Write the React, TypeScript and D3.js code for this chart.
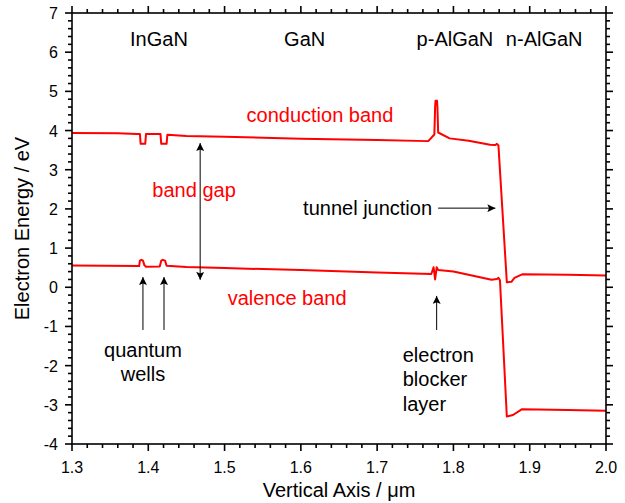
import React from "react";
import * as d3 from "d3";

// band edges (position in µm, energy in eV)
const conductionX = [
  1.3, 1.36, 1.385, 1.389, 1.39, 1.396, 1.397, 1.416, 1.417, 1.424, 1.425,
  1.45, 1.5, 1.6, 1.7, 1.767, 1.775, 1.776, 1.7765, 1.7785, 1.779, 1.78,
  1.795, 1.82, 1.848, 1.855, 1.857, 1.859, 1.87, 1.876, 1.88, 1.89, 1.95, 2.0,
];
const conductionE = [
  3.94, 3.93, 3.91, 3.91, 3.66, 3.66, 3.91, 3.91, 3.66, 3.66, 3.89,
  3.86, 3.84, 3.79, 3.76, 3.73, 3.9, 4.6, 4.76, 4.76, 4.6, 3.95,
  3.8, 3.74, 3.64, 3.63, 3.66, 3.62, 0.13, 0.14, 0.24, 0.33, 0.32, 0.3,
];

const valenceX = [
  1.3, 1.388, 1.389, 1.391, 1.393, 1.395, 1.397, 1.415, 1.417, 1.419, 1.422,
  1.424, 1.45, 1.5, 1.6, 1.7, 1.771, 1.774, 1.776, 1.778, 1.78, 1.8, 1.85,
  1.857, 1.859, 1.861, 1.87, 1.878, 1.89, 1.95, 2.0,
];
const valenceE = [
  0.556, 0.54, 0.68, 0.7, 0.68, 0.56, 0.525, 0.53, 0.68, 0.7, 0.68,
  0.55, 0.52, 0.49, 0.44, 0.38, 0.34, 0.51, 0.2, 0.51, 0.44, 0.4, 0.19,
  0.21, 0.24, 0.18, -3.3, -3.26, -3.11, -3.13, -3.15,
];

const xTickLabels = ["1.3", "1.4", "1.5", "1.6", "1.7", "1.8", "1.9", "2.0"];
const yTickLabels = ["-4", "-3", "-2", "-1", "0", "1", "2", "3", "4", "5", "6", "7"];
const layerNames = ["InGaN", "GaN", "p-AlGaN", "n-AlGaN"];
const layerCenters = [1.414, 1.605, 1.802, 1.919];

const font = "'Liberation Sans', Arial, sans-serif";
const red = "#ff0000";

const App = () => {
  const width = 625;
  const height = 503;
  const margins = { top: 13, right: 19, bottom: 59, left: 72 };

  const xScale = d3
    .scaleLinear()
    .domain([1.3, 2.0])
    .range([margins.left, width - margins.right]);
  const yScale = d3
    .scaleLinear()
    .domain([-4, 7])
    .range([height - margins.bottom, margins.top]);

  const x0 = xScale.range()[0];
  const x1 = xScale.range()[1];
  const y0 = yScale.range()[0];
  const y1 = yScale.range()[1];

  const line = d3
    .line<number>()
    .x((d) => xScale(d))
    .curve(d3.curveLinear);

  const cbPath = line.y((_, i) => yScale(conductionE[i]))(conductionX);
  const vbPath = line.y((_, i) => yScale(valenceE[i]))(valenceX);

  const xMinor = d3.range(0, 36).map((i) => 1.3 + i * 0.02);
  const yMinor = d3.range(0, 56).map((i) => -4 + i * 0.2);

  const majorLen = 7;
  const minorLen = 4;
  const labelSize = 20;

  const axisStroke = { stroke: "#000", strokeWidth: 1.6 };

  const arrowHead = (id: string) => (
    <marker
      id={id}
      viewBox="0 0 10 10"
      refX="10"
      refY="5"
      markerWidth="10"
      markerHeight="8"
      markerUnits="userSpaceOnUse"
      orient="auto-start-reverse"
    >
      <path d="M0,0 L10,5 L0,10 L2,5 Z" fill="#000" />
    </marker>
  );

  return (
    <svg
      width={width}
      height={height}
      style={{ position: "absolute", left: 0, top: 0, background: "#fff" }}
      fontFamily={font}
    >
      <defs>{arrowHead("arr")}</defs>

      {/* band edges */}
      <path d={cbPath ?? ""} fill="none" stroke={red} strokeWidth={2} strokeLinejoin="round" />
      <path d={vbPath ?? ""} fill="none" stroke={red} strokeWidth={2} strokeLinejoin="round" />

      {/* frame */}
      <rect x={x0} y={y1} width={x1 - x0} height={y0 - y1} fill="none" {...axisStroke} />

      {/* x ticks bottom + top */}
      {xMinor.map((v, i) => {
        const major = i % 5 === 0;
        const len = major ? majorLen : minorLen;
        const x = xScale(v);
        return (
          <g key={"xt" + i}>
            <line x1={x} x2={x} y1={y0} y2={y0 + len} {...axisStroke} />
            <line x1={x} x2={x} y1={y1} y2={y1 - len} {...axisStroke} />
          </g>
        );
      })}
      {xTickLabels.map((t) => (
        <text key={t} x={xScale(+t)} y={y0 + 29} textAnchor="middle" fontSize={16}>
          {t}
        </text>
      ))}

      {/* y ticks left + right */}
      {yMinor.map((v, i) => {
        const major = i % 5 === 0;
        const len = major ? majorLen : minorLen;
        const y = yScale(v);
        return (
          <g key={"yt" + i}>
            <line x1={x0} x2={x0 - len} y1={y} y2={y} {...axisStroke} />
            <line x1={x1} x2={x1 + len} y1={y} y2={y} {...axisStroke} />
          </g>
        );
      })}
      {yTickLabels.map((t) => (
        <text key={t} x={x0 - 14} y={yScale(+t) + 6} textAnchor="end" fontSize={16}>
          {t}
        </text>
      ))}

      {/* axis titles */}
      <text x={(x0 + x1) / 2} y={height - 6} textAnchor="middle" fontSize={labelSize}>
        Vertical Axis / μm
      </text>
      <text
        transform={`translate(${29}, ${(y0 + y1) / 2}) rotate(-90)`}
        textAnchor="middle"
        fontSize={labelSize}
      >
        Electron Energy / eV
      </text>

      {/* layer names */}
      {layerNames.map((n, i) => (
        <text key={n} x={xScale(layerCenters[i])} y={yScale(6.16)} textAnchor="middle" fontSize={labelSize}>
          {n}
        </text>
      ))}

      {/* band labels */}
      <text x={xScale(1.625)} y={yScale(4.22)} textAnchor="middle" fontSize={labelSize} fill={red}>
        conduction band
      </text>
      <text x={xScale(1.46)} y={yScale(2.3)} textAnchor="middle" fontSize={labelSize} fill={red}>
        band gap
      </text>
      <text x={xScale(1.582)} y={yScale(-0.45)} textAnchor="middle" fontSize={labelSize} fill={red}>
        valence band
      </text>

      {/* band gap double arrow */}
      <line
        x1={xScale(1.468)}
        x2={xScale(1.468)}
        y1={yScale(3.68)}
        y2={yScale(0.19)}
        stroke="#000"
        strokeWidth={1}
        markerStart="url(#arr)"
        markerEnd="url(#arr)"
      />

      {/* tunnel junction */}
      <text x={xScale(1.772)} y={yScale(1.85)} textAnchor="end" fontSize={labelSize}>
        tunnel junction
      </text>
      <line
        x1={xScale(1.78)}
        x2={xScale(1.855)}
        y1={yScale(2.02)}
        y2={yScale(2.02)}
        stroke="#000"
        strokeWidth={1}
        markerEnd="url(#arr)"
      />

      {/* quantum wells */}
      {[1.393, 1.4206].map((v) => (
        <line
          key={v}
          x1={xScale(v)}
          x2={xScale(v)}
          y1={yScale(-1.09)}
          y2={yScale(0.26)}
          stroke="#000"
          strokeWidth={1}
          markerEnd="url(#arr)"
        />
      ))}
      <text x={xScale(1.393)} y={yScale(-1.78)} textAnchor="middle" fontSize={labelSize}>
        quantum
      </text>
      <text x={xScale(1.393)} y={yScale(-2.4)} textAnchor="middle" fontSize={labelSize}>
        wells
      </text>

      {/* electron blocker layer */}
      <line
        x1={xScale(1.778)}
        x2={xScale(1.778)}
        y1={yScale(-1.09)}
        y2={yScale(-0.22)}
        stroke="#000"
        strokeWidth={1}
        markerEnd="url(#arr)"
      />
      {["electron", "blocker", "layer"].map((w, i) => (
        <text key={w} x={xScale(1.7335)} y={yScale(-1.9 - i * 0.625)} fontSize={labelSize}>
          {w}
        </text>
      ))}
    </svg>
  );
};

export default App;
